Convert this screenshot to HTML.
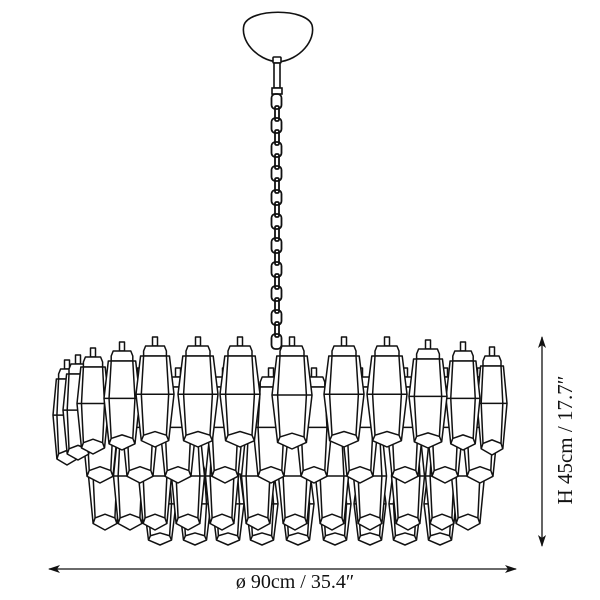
<!DOCTYPE html>
<html><head><meta charset="utf-8">
<style>
html,body{margin:0;padding:0;background:#fff;}
svg{display:block;}
text{font-family:"Liberation Serif",serif;fill:#111;}
</style></head>
<body>
<svg id="s" width="600" height="600" viewBox="0 0 600 600" xmlns="http://www.w3.org/2000/svg">
<defs>
<marker id="ar" markerWidth="12" markerHeight="8" refX="11" refY="4" orient="auto-start-reverse" markerUnits="userSpaceOnUse">
<path d="M0,0 L12,4 L0,8 L3,4 Z" fill="#111"/>
</marker>
</defs>
<g id="canopy" fill="#fff" stroke="#111" stroke-width="1.6">
<path d="M244,25 C250,8 306,8 312,25 C316,40 300,60 278,62 C256,60 240,40 244,25 Z"/>
<rect x="273" y="57" width="8" height="6" rx="1"/>
<rect x="274" y="63" width="6" height="25"/>
<rect x="272" y="88" width="10" height="6"/>
</g>
<g id="chain" fill="none" stroke="#111" stroke-width="1.8"></g>
<g id="prisms" stroke="#111" stroke-width="1.5" stroke-linejoin="round"></g>
<line x1="49" y1="569" x2="516" y2="569" stroke="#111" stroke-width="1.3" marker-start="url(#ar)" marker-end="url(#ar)"/>
<text x="295" y="588" font-size="20" text-anchor="middle">ø 90cm / 35.4″</text>
<line x1="542" y1="337" x2="542" y2="546" stroke="#111" stroke-width="1.3" marker-start="url(#ar)" marker-end="url(#ar)"/>
<text transform="translate(572,440) rotate(-90)" font-size="21" text-anchor="middle">H 45cm / 17.7″</text>
</svg>
<script>
(function(){
var NS="http://www.w3.org/2000/svg";
function el(parent,tag,attrs){var e=document.createElementNS(NS,tag);for(var k in attrs)e.setAttribute(k,attrs[k]);parent.appendChild(e);return e;}
var ch=document.getElementById('chain');
for(var y=94,i=0;y<345;y+=12,i++){
  if(i%2==0) el(ch,'rect',{x:271.5,y:y,width:10,height:15,rx:4});
  else el(ch,'rect',{x:275,y:y,width:4,height:15,rx:1.5});
}
var g=document.getElementById('prisms');
function prism(cx,t,w,h){
  var gg=el(g,'g',{});
  el(gg,'rect',{x:cx-2.5,y:t,width:5,height:9,fill:'#fff'});
  var cw=w*0.6;
  el(gg,'polygon',{points:(cx-cw/2)+','+(t+14)+' '+(cx-cw/2+2)+','+(t+9)+' '+(cx+cw/2-2)+','+(t+9)+' '+(cx+cw/2)+','+(t+14)+' '+(cx+cw/2)+','+(t+19)+' '+(cx-cw/2)+','+(t+19),fill:'#fff'});
  var y0=t+19, hb=h-19;
  var pts=[[cx-0.38*w,y0],[cx+0.38*w,y0],[cx+0.5*w,y0+0.42*hb],[cx+0.36*w,y0+0.93*hb],[cx,y0+hb],[cx-0.36*w,y0+0.93*hb],[cx-0.5*w,y0+0.42*hb]];
  el(gg,'polygon',{points:pts.map(function(p){return p.join(',')}).join(' '),fill:'#fff'});
  el(gg,'polyline',{points:(cx-0.5*w)+','+(y0+0.42*hb)+' '+(cx+0.5*w)+','+(y0+0.42*hb),fill:'none'});
  el(gg,'polyline',{points:(cx-0.3*w)+','+y0+' '+(cx-0.36*w)+','+(y0+0.42*hb)+' '+(cx-0.3*w)+','+(y0+0.87*hb),fill:'none'});
  el(gg,'polyline',{points:(cx+0.3*w)+','+y0+' '+(cx+0.36*w)+','+(y0+0.42*hb)+' '+(cx+0.3*w)+','+(y0+0.87*hb),fill:'none'});
  el(gg,'polyline',{points:(cx-0.36*w)+','+(y0+0.93*hb)+' '+(cx-0.3*w)+','+(y0+0.87*hb)+' '+cx+','+(y0+0.83*hb)+' '+(cx+0.3*w)+','+(y0+0.87*hb)+' '+(cx+0.36*w)+','+(y0+0.93*hb),fill:'none'});
}
[160,195,228,262,298,335,370,405,440].forEach(function(x){prism(x,455,32,90);});
[105,130,155,188,222,258,295,332,370,408,442,468].forEach(function(x){prism(x,418,33,112);});
[100,140,178,225,271,314,360,405,445,480].forEach(function(x){prism(x,368,36,115);});
var tr=[[67,360,28,105],[78,355,30,105],[492,347,30,108],[93,348,32,106],[463,342,34,108],[122,342,36,108],[428,340,38,108],[155,337,38,110],[387,337,40,110],[198,337,40,110],[344,337,40,110],[240,337,40,110],[292,337,40,112]];
tr.forEach(function(p){prism(p[0],p[1],p[2],p[3]);});
})();
</script>
</body></html>
